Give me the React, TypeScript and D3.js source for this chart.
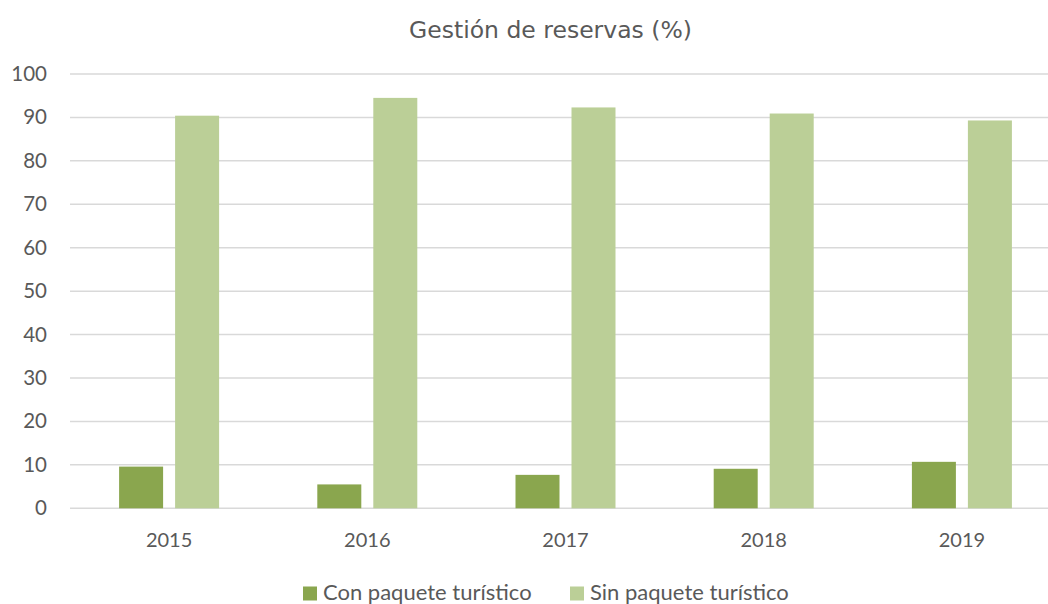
import React from "react";
import * as d3 from "d3";

const years = ["2015", "2016", "2017", "2018", "2019"];
const conPaquete = [9.6, 5.5, 7.7, 9.1, 10.7];
const sinPaquete = [90.4, 94.5, 92.3, 90.9, 89.3];
const yTicks = [0, 10, 20, 30, 40, 50, 60, 70, 80, 90, 100];
const seriesNames = ["Con paquete turístico", "Sin paquete turístico"];
const colors = ["#8AA64E", "#BBCF97"];

export default function App() {
  const W = 1048, H = 604;
  const left = 70, right = 1061, top = 74, bottom = 508.3;
  const x = d3.scaleBand<string>().domain(years).range([left, right]).paddingInner(0).paddingOuter(0);
  const y = d3.scaleLinear().domain([0, 100]).range([bottom, top]);
  const barW = 44;
  const gap = 12;
  const textColor = "#595959";
  const font = "Lato, 'Open Sans', sans-serif";
  const series = [conPaquete, sinPaquete];
  return (
    <svg width={W} height={H} style={{ position: "absolute", left: 0, top: 0, background: "#fff" }}>
      <text x={550.5} y={38} textAnchor="middle" fontFamily="'DejaVu Sans', Verdana, sans-serif" fontSize={23.5} fill={textColor}>
        Gestión de reservas (%)
      </text>
      {yTicks.map((t) => (
        <g key={t}>
          <line x1={left} x2={right} y1={y(t)} y2={y(t)} stroke="#D9D9D9" strokeWidth={1.5} />
          <text x={47} y={y(t) + 7} textAnchor="end" fontFamily={font} fontSize={20.5} fill={textColor}>
            {t}
          </text>
        </g>
      ))}
      {years.map((yr, i) => {
        const c = (x(yr) as number) + x.bandwidth() / 2;
        return (
          <g key={yr}>
            {series.map((s, j) => {
              const bx = j === 0 ? c - gap / 2 - barW : c + gap / 2;
              return (
                <rect key={j} x={bx} y={y(s[i])} width={barW} height={y(0) - y(s[i])} fill={colors[j]} />
              );
            })}
            <text x={c} y={546.5} textAnchor="middle" fontFamily={font} fontSize={20} fill={textColor}>
              {yr}
            </text>
          </g>
        );
      })}
      {seriesNames.map((n, j) => {
        const lx = j === 0 ? 303 : 570;
        return (
          <g key={n}>
            <rect x={lx} y={586.5} width={14} height={14} fill={colors[j]} />
            <text x={lx + 20} y={600} fontFamily={font} fontSize={22} fill={textColor}>
              {n}
            </text>
          </g>
        );
      })}
    </svg>
  );
}
